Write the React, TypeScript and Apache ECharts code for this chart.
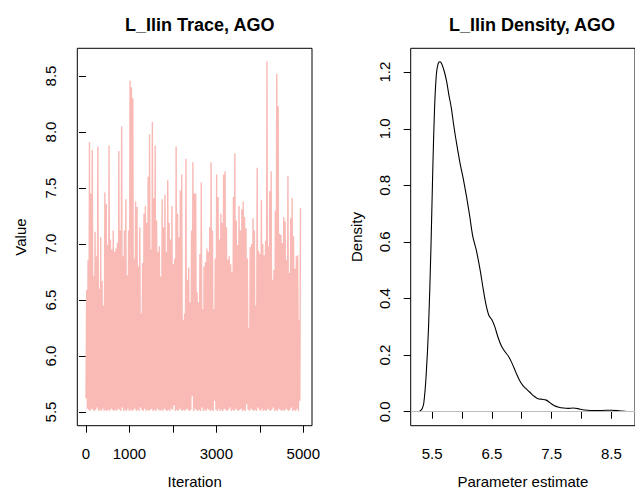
import React, { useEffect, useRef } from "react";
import * as echarts from "echarts";

// ---- Trace (left panel): per-bin upper and lower envelope of the MCMC chain ----
const iterMax = 5000;
const traceHigh = [
  6.59, 6.86, 7.91, 7.45, 7.84, 6.71, 7.11, 6.89, 7.87, 6.60, 7.06, 6.67, 6.45, 7.46, 7.36, 6.99,
  7.88, 7.04, 6.95, 7.12, 6.93, 6.96, 7.01, 7.83, 7.12, 8.05, 6.89, 7.12, 7.40, 6.72, 7.12, 8.46,
  8.40, 8.30, 6.87, 7.38, 7.33, 6.80, 7.15, 6.38, 6.83, 7.27, 7.34, 7.19, 7.60, 7.98, 6.95, 8.09,
  7.41, 7.88, 7.21, 6.93, 6.98, 6.71,
  7.40, 7.15, 7.44, 6.93, 7.57, 7.19, 7.04, 7.34, 6.82, 6.87, 7.87, 7.27, 7.06, 7.48, 7.62, 6.32,
  6.38, 7.76, 6.68, 6.79, 6.48, 7.12, 7.73, 7.45, 7.45, 6.57, 6.48, 6.91, 7.55, 6.42, 6.80, 6.84,
  6.96, 6.93, 7.15, 7.73, 7.12, 6.42, 6.87, 7.62, 7.42, 7.04, 7.27, 7.19, 7.62, 7.65, 7.15, 6.86,
  6.89, 6.82, 6.75, 7.42, 7.81, 7.21, 6.99, 7.34,
  7.12, 7.31, 7.38, 7.24, 7.14, 6.87, 6.25, 6.97, 7.00, 7.23, 7.12, 6.45, 7.68, 6.94, 6.91, 7.39,
  7.00, 6.90, 7.03, 8.63, 6.98, 7.47, 7.65, 6.68, 6.77, 7.30, 8.52, 8.23, 7.09, 7.08, 7.01, 7.24,
  7.20, 6.86, 7.61, 6.74, 7.23, 7.41, 7.07, 6.78, 6.89, 6.90, 6.32, 7.32, 6.98, 6.97,
];
const traceLow = [
  5.62, 5.53, 5.52, 5.51, 5.53, 5.52, 5.51, 5.52, 5.54, 5.51, 5.52, 5.51, 5.53, 5.51, 5.52, 5.51,
  5.52, 5.51, 5.53, 5.52, 5.51, 5.52, 5.51, 5.53, 5.52, 5.51, 5.54, 5.51, 5.52, 5.51, 5.53, 5.51,
  5.52, 5.51, 5.52, 5.53, 5.51, 5.52, 5.51, 5.54, 5.52, 5.51, 5.53, 5.51, 5.52, 5.51, 5.52, 5.53,
  5.51, 5.52, 5.51, 5.53, 5.52, 5.51,
  5.52, 5.51, 5.53, 5.52, 5.51, 5.52, 5.51, 5.53, 5.52, 5.56, 5.51, 5.52, 5.51, 5.53, 5.52, 5.51,
  5.52, 5.51, 5.53, 5.52, 5.51, 5.52, 5.64, 5.51, 5.53, 5.52, 5.51, 5.52, 5.51, 5.54, 5.51, 5.52,
  5.51, 5.53, 5.52, 5.51, 5.52, 5.51, 5.60, 5.52, 5.51, 5.53, 5.51, 5.52, 5.51, 5.53, 5.52, 5.51,
  5.52, 5.54, 5.51, 5.52, 5.51, 5.53,
  5.52, 5.51, 5.52, 5.53, 5.51, 5.52, 5.51, 5.57, 5.52, 5.51, 5.53, 5.52, 5.51, 5.52, 5.51, 5.54,
  5.52, 5.51, 5.53, 5.51, 5.52, 5.51, 5.53, 5.52, 5.51, 5.52, 5.54, 5.51, 5.52, 5.51, 5.53, 5.52,
  5.51, 5.52, 5.51, 5.53, 5.52, 5.51, 5.52, 5.54, 5.51, 5.52, 5.51, 5.53, 5.51, 5.60,
];

// ---- Density (right panel) ----
const densityX = [
  5.27, 5.30, 5.33, 5.36, 5.40, 5.44, 5.48, 5.51, 5.54, 5.57, 5.60, 5.63, 5.66, 5.70, 5.74, 5.78,
  5.82, 5.87, 5.92, 5.97, 6.02, 6.08, 6.13, 6.18, 6.24, 6.30, 6.35, 6.40, 6.45, 6.50, 6.55, 6.60,
  6.66, 6.72, 6.78, 6.84, 6.90, 6.96, 7.02, 7.08, 7.14, 7.20, 7.27, 7.34, 7.41, 7.47, 7.54, 7.62,
  7.70, 7.78, 7.86, 7.94, 8.02, 8.10, 8.20, 8.30, 8.40, 8.50, 8.60, 8.70, 8.76,
];
const densityY = [
  0.000, 0.003, 0.010, 0.030, 0.130, 0.300, 0.580, 0.850, 1.070, 1.190, 1.230, 1.237, 1.230, 1.205, 1.170, 1.120,
  1.075, 1.000, 0.935, 0.875, 0.825, 0.755, 0.690, 0.620, 0.570, 0.505, 0.440, 0.380, 0.340, 0.325, 0.300, 0.265,
  0.232, 0.212, 0.195, 0.170, 0.140, 0.112, 0.092, 0.080, 0.068, 0.056, 0.046, 0.044, 0.041, 0.032, 0.022, 0.016,
  0.013, 0.012, 0.013, 0.011, 0.007, 0.005, 0.004, 0.004, 0.005, 0.005, 0.004, 0.002, 0.001,
];

// ---- Axis ticks / labels ----
const traceXTicks = [0, 1000, 2000, 3000, 4000, 5000];
const traceXLabels = [0, 1000, 3000, 5000];
const traceYTicks = [5.5, 6.0, 6.5, 7.0, 7.5, 8.0, 8.5];
const densXTicks = [5.5, 6.0, 6.5, 7.0, 7.5, 8.0, 8.5];
const densXLabels = [5.5, 6.5, 7.5, 8.5];
const densYTicks = [0, 0.2, 0.4, 0.6, 0.8, 1.0, 1.2];

const FONT = "'Liberation Sans', Arial, Helvetica, sans-serif";

export default function App() {
  const ref = useRef<HTMLDivElement>(null);

  useEffect(() => {
    if (!ref.current) return;
    const chart = echarts.init(ref.current, null, { renderer: "svg" });

    const n = traceHigh.length;
    const step = (iterMax - 1) / (n - 0.5);
    const traceData: number[][] = [];
    for (let i = 0; i < n; i++) {
      const x = 1 + i * step;
      traceData.push([x, traceLow[i]]);
      traceData.push([x + step / 2, traceHigh[i]]);
    }
    const densData = densityX.map((x, i) => [x, densityY[i]]);

    const tickStyle = { show: true, length: 7, lineStyle: { color: "#000", width: 1 } };
    const labelBase = { color: "#000", fontSize: 15, fontFamily: FONT };
    const nameStyle = { color: "#000", fontSize: 15, fontFamily: FONT };

    chart.setOption({
      animation: false,
      backgroundColor: "#fff",
      title: [
        {
          text: "L_Ilin Trace, AGO",
          left: 194.7,
          top: 11,
          textAlign: "center",
          textStyle: { fontSize: 18, fontWeight: "bold", color: "#000", fontFamily: FONT },
        },
        {
          text: "L_Ilin Density, AGO",
          left: 527,
          top: 11,
          textAlign: "center",
          textStyle: { fontSize: 18, fontWeight: "bold", color: "#000", fontFamily: FONT },
        },
      ],
      grid: [
        { left: 77.3, top: 48.3, width: 234.7, height: 377.4, show: true, borderColor: "#000", borderWidth: 1, backgroundColor: "transparent", containLabel: false },
        { left: 410.7, top: 48.3, width: 230.3, height: 377.4, show: true, borderColor: "#000", borderWidth: 1, backgroundColor: "transparent", containLabel: false },
      ],
      xAxis: [
        {
          gridIndex: 0, type: "value", min: -199, max: 5200,
          axisLine: { show: false }, splitLine: { show: false },
          axisTick: { ...tickStyle, customValues: traceXTicks },
          axisLabel: { ...labelBase, margin: 20, customValues: traceXLabels, formatter: (v: number) => String(v) },
          name: "Iteration", nameLocation: "middle", nameGap: 48, nameTextStyle: nameStyle,
        },
        {
          gridIndex: 1, type: "value", min: 5.141, max: 8.896,
          axisLine: { show: false }, splitLine: { show: false },
          axisTick: { ...tickStyle, customValues: densXTicks },
          axisLabel: { ...labelBase, margin: 20, customValues: densXLabels, formatter: (v: number) => v.toFixed(1) },
          name: "Parameter estimate", nameLocation: "middle", nameGap: 48, nameTextStyle: nameStyle,
        },
      ],
      yAxis: [
        {
          gridIndex: 0, type: "value", min: 5.378, max: 8.747,
          axisLine: { show: false }, splitLine: { show: false },
          axisTick: { ...tickStyle, customValues: traceYTicks },
          axisLabel: { ...labelBase, margin: 19, rotate: 90, customValues: traceYTicks, formatter: (v: number) => v.toFixed(1) },
          name: "Value", nameLocation: "middle", nameGap: 49, nameTextStyle: nameStyle,
        },
        {
          gridIndex: 1, type: "value", min: -0.0494, max: 1.2844,
          axisLine: { show: false }, splitLine: { show: false },
          axisTick: { ...tickStyle, customValues: densYTicks },
          axisLabel: { ...labelBase, margin: 19, rotate: 90, customValues: densYTicks, formatter: (v: number) => v.toFixed(1) },
          name: "Density", nameLocation: "middle", nameGap: 47, nameTextStyle: nameStyle,
        },
      ],
      series: [
        {
          type: "line", xAxisIndex: 0, yAxisIndex: 0, data: traceData,
          showSymbol: false, symbol: "none",
          lineStyle: { color: "#F9BAB6", width: 1.4 },
          silent: true,
        },
        {
          type: "line", xAxisIndex: 1, yAxisIndex: 1, data: densData,
          showSymbol: false, symbol: "none", smooth: 0.3,
          lineStyle: { color: "#000", width: 1.1 },
          silent: true,
          markLine: {
            silent: true, symbol: "none", label: { show: false },
            lineStyle: { color: "#bebebe", type: "solid", width: 1 },
            data: [{ yAxis: 0 }],
          },
        },
      ],
    });

    return () => chart.dispose();
  }, []);

  return (
    <div
      ref={ref}
      style={{ position: "fixed", left: 0, top: 0, width: 635, height: 494, background: "#fff" }}
    />
  );
}
